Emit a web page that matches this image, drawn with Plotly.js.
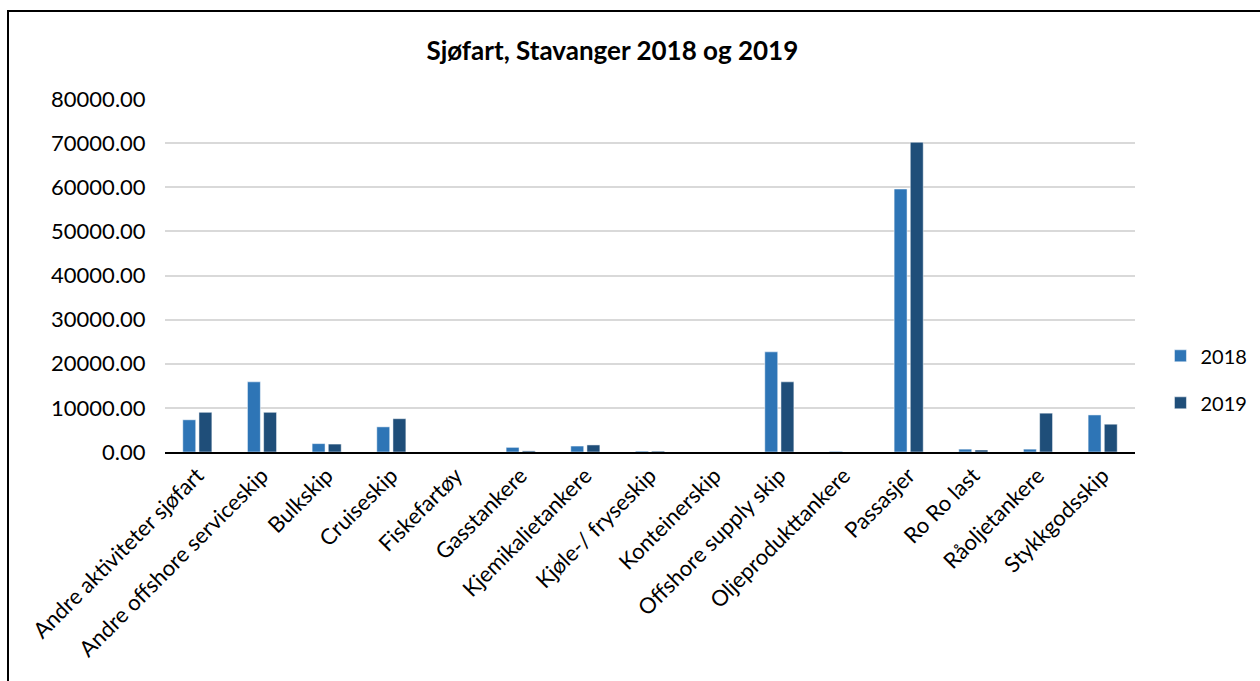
<!DOCTYPE html>
<html>
<head>
<meta charset="utf-8">
<script src="https://cdn.plot.ly/plotly-3.0.1.min.js"></script>
<style>
html,body{margin:0;padding:0;background:#fff;overflow:hidden;}
#frame{position:absolute;left:7px;top:10px;width:1300px;height:700px;border-left:2px solid #000;border-top:2px solid #000;box-sizing:border-box;}
#chart{position:absolute;left:0;top:0;width:1260px;height:681px;}
</style>
</head>
<body>
<div id="frame"></div>
<div id="chart"></div>
<script>
const categories = ["Andre aktiviteter sjøfart","Andre offshore serviceskip","Bulkskip","Cruiseskip","Fiskefartøy","Gasstankere","Kjemikalietankere","Kjøle-/ fryseskip","Konteinerskip","Offshore supply skip","Oljeprodukttankere","Passasjer","Ro Ro last","Råoljetankere","Stykkgodsskip"];
const values2018 = [7300, 15900, 1900, 5700, 0, 1050, 1350, 200, 0, 22700, 150, 59600, 650, 650, 8400];
const values2019 = [9000, 9000, 1800, 7550, 0, 250, 1600, 200, 0, 15900, 0, 70200, 450, 8800, 6300];
const seriesNames = ["2018","2019"];

const fontFam = "Lato, 'Open Sans', sans-serif";
const traces = [
  {type:'bar', name:seriesNames[0], x:categories, y:values2018, marker:{color:'#2e75b6', line:{color:'#ffffff', width:0.5}}, legendgroup:'a'},
  {type:'bar', name:seriesNames[1], x:categories, y:values2019, marker:{color:'#1f4e79', line:{color:'#ffffff', width:0.5}}, legendgroup:'b'}
];
const layout = {
  width:1260, height:681,
  paper_bgcolor:'rgba(0,0,0,0)', plot_bgcolor:'rgba(0,0,0,0)',
  margin:{l:165, r:125, t:99, b:229},
  title:{text:'<b>Sjøfart, Stavanger 2018 og 2019</b>', font:{family:fontFam, size:26, color:'#000'}, x:0.486, xref:'container', y:0.925, yref:'container', xanchor:'center', yanchor:'middle'},
  barmode:'group', bargap:0.5, bargroupgap:0.2,
  font:{family:fontFam, color:'#000'},
  xaxis:{type:'category', tickangle:-45, tickfont:{size:22, family:fontFam, color:'#000'}, showline:true, linecolor:'#000', linewidth:2, ticks:'', showgrid:false, automargin:false},
  yaxis:{range:[0,80000], dtick:10000, tickformat:'.2f', tickfont:{size:22, family:fontFam, color:'#000'}, showgrid:true, gridcolor:'#d9d9d9', gridwidth:2, zeroline:false, showline:false, ticks:'outside', ticklen:14, tickcolor:'rgba(0,0,0,0)', automargin:false},
  legend:{xref:'container', yref:'container', x:0.921, xanchor:'left', y:0.443, yanchor:'middle', font:{size:20, family:fontFam, color:'#000'}, traceorder:'grouped', tracegroupgap:18, itemwidth:30},
  showlegend:true
};
Plotly.newPlot('chart', traces, layout, {displayModeBar:false, staticPlot:true});
</script>
</body>
</html>
